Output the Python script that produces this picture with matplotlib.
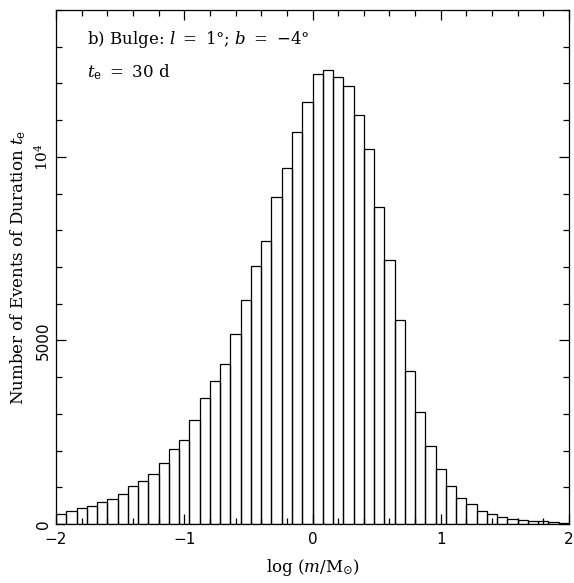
import numpy as np
import matplotlib.pyplot as plt
from matplotlib.ticker import MultipleLocator, FixedLocator, FixedFormatter

# histogram of lens mass, 50 bins of 0.08 in log(m/Msun) from -2 to 2
bin_lo = -2.0
bin_hi = 2.0
n_bins = 50
counts = [
    272, 354, 445, 490, 600, 672, 827, 1026, 1163, 1362,
    1653, 2044, 2289, 2825, 3433, 3888, 4351, 5169, 6095, 7031,
    7703, 8902, 9701, 10664, 11500, 12244, 12363, 12181, 11936, 11137,
    10210, 8630, 7186, 5550, 4169, 3043, 2126, 1499, 1026, 717,
    536, 363, 263, 191, 136, 109, 90, 73, 54, 36,
]
y_ticks = [0, 5000, 10000]
y_tick_labels = ["0", "5000", r"$10^4$"]

plt.rcParams["font.family"] = ["DejaVu Serif"]
plt.rcParams["mathtext.fontset"] = "dejavuserif"

edges = np.linspace(bin_lo, bin_hi, n_bins + 1)
width = edges[1] - edges[0]

fig = plt.figure(figsize=(5.74, 5.83), dpi=100)
ax = fig.add_axes([0.0976, 0.1012, 0.8937, 0.8816])

ax.bar(edges[:-1], counts, width=width, align="edge", fill=False,
       edgecolor="black", linewidth=0.9)

ax.set_xlim(bin_lo, bin_hi)
ax.set_ylim(0, 14000)

ax.xaxis.set_major_locator(MultipleLocator(1))
ax.xaxis.set_minor_locator(MultipleLocator(0.2))
ax.yaxis.set_major_locator(FixedLocator(y_ticks))
ax.yaxis.set_major_formatter(FixedFormatter(y_tick_labels))
ax.yaxis.set_minor_locator(MultipleLocator(1000))

ax.tick_params(which="both", direction="in", top=True, right=True,
               labelsize=11, width=0.9)
ax.tick_params(which="major", length=7)
ax.tick_params(which="minor", length=4)
ax.tick_params(axis="x", pad=6)
for lab in ax.get_yticklabels():
    lab.set_rotation(90)
    lab.set_va("center")
for lab in ax.get_xticklabels() + ax.get_yticklabels():
    lab.set_family("DejaVu Sans")

for s in ax.spines.values():
    s.set_linewidth(0.9)

ax.set_xlabel(r"log $(m/\mathrm{M}_{\odot})$", fontsize=12, labelpad=7)
ax.set_ylabel(r"Number of Events of Duration $t_{\rm e}$", fontsize=12,
              labelpad=4)

ax.text(0.06, 0.942, r"b) Bulge: $l\ =\ 1°$; $b\ =\ {-}4°$",
        transform=ax.transAxes, fontsize=12, va="center")
ax.text(0.06, 0.879, r"$t_{\rm e}\ =\ $30 d",
        transform=ax.transAxes, fontsize=12, va="center")

fig.savefig("out.png", dpi=100)
